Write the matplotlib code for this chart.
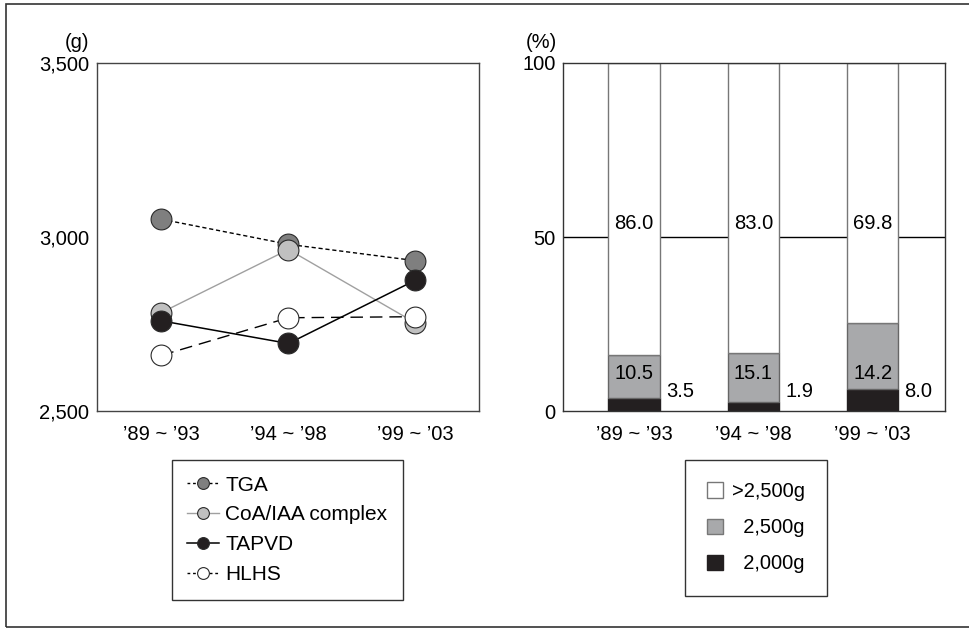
import matplotlib.pyplot as plt
import numpy as np
from matplotlib.lines import Line2D
from matplotlib.patches import Patch, Rectangle

plt.rcParams.update({
    "font.family": ["Liberation Sans", "DejaVu Sans"],
    "font.size": 14.5,
})

# periods on the x axis
periods = ["\u201989 ~ \u201993", "\u201994 ~ \u201998", "\u201999 ~ \u201903"]

# mean birth weight (g)
tga = [3051, 2979, 2932]
coa = [2783, 2964, 2753]
tapvd = [2759, 2694, 2876]
hlhs = [2660, 2768, 2771]

# right panel: printed percentages
pct_over = [86.0, 83.0, 69.8]
pct_2500 = [10.5, 15.1, 14.2]
pct_2000 = [3.5, 1.9, 8.0]
# drawn heights of the segments (as they appear in the figure)
bar_black = [3.6, 2.6, 6.3]
bar_gray = [12.6, 14.2, 19.0]

fig = plt.figure(figsize=(9.69, 6.30), dpi=100)

# outer frame round the whole figure
fig.patches.append(Rectangle((0.0062, 0.004), 1.1, 0.9897, transform=fig.transFigure,
                             fill=False, edgecolor="#333333", linewidth=1.2))

# ---- left panel: lines ----
ax1 = fig.add_axes([0.0998, 0.3476, 0.3945, 0.5524])
x = np.arange(len(periods))
mk = dict(marker="o", markersize=15, markeredgecolor="#2a2a2a", markeredgewidth=0.8)
ax1.plot(x, tga, color="black", lw=1.0, linestyle=(0, (3, 2)), markerfacecolor="#7f7f7f", label="TGA", **mk)
ax1.plot(x, coa, color="#a0a0a0", lw=1.0, linestyle="-", markerfacecolor="#c0c0c0", label="CoA/IAA complex", **mk)
ax1.plot(x, tapvd, color="black", lw=1.1, linestyle="-", markerfacecolor="#231f20", label="TAPVD", **mk)
ax1.plot(x, hlhs, color="black", lw=1.0, linestyle=(0, (9, 5)), markerfacecolor="white", label="HLHS", **mk)

ax1.set_xlim(-0.51, 2.5)
ax1.set_ylim(2500, 3500)
ax1.set_xticks(x)
ax1.set_xticklabels(periods)
ax1.set_yticks([2500, 3000, 3500])
ax1.set_yticklabels(["2,500", "3,000", "3,500"])
ax1.tick_params(axis="both", length=0)
ax1.tick_params(axis="x", pad=10)
ax1.tick_params(axis="y", pad=5.5)
for s in ax1.spines.values():
    s.set_color("#444444")
    s.set_linewidth(1.0)
fig.text(77 / 969, 1 - 43 / 630, "(g)", ha="center", va="center")

lmk = dict(marker="o", markersize=8.5, markeredgecolor="#2a2a2a", markeredgewidth=0.8)
leg1 = fig.legend(handles=[
    Line2D([0], [0], color="black", lw=1.0, linestyle=(0, (2, 2)), markerfacecolor="#7f7f7f", label="TGA", **lmk),
    Line2D([0], [0], color="#a0a0a0", lw=1.0, markerfacecolor="#c0c0c0", label="CoA/IAA complex", **lmk),
    Line2D([0], [0], color="black", lw=1.1, markerfacecolor="#231f20", label="TAPVD", **lmk),
    Line2D([0], [0], color="black", lw=1.0, linestyle=(0, (2, 2)), markerfacecolor="white", label="HLHS", **lmk),
], loc="upper left", bbox_to_anchor=(171.7 / 969, 1 - 460 / 630), fontsize=15,
    frameon=True, fancybox=False, edgecolor="#333333", framealpha=1,
    handlelength=1.54, handletextpad=0.27, labelspacing=0.52, borderpad=0.75, borderaxespad=0)
leg1.get_frame().set_linewidth(1.0)

# ---- right panel: stacked bars ----
ax2 = fig.add_axes([0.5813, 0.3476, 0.3939, 0.5524])
bw = 0.43
white_h = [100 - b - g for b, g in zip(bar_black, bar_gray)]
ax2.axhline(50, color="black", lw=1.0, zorder=0)
ax2.bar(x, bar_black, width=bw, color="#231f20", edgecolor="#231f20", lw=1.0, zorder=2)
ax2.bar(x, bar_gray, width=bw, bottom=bar_black, color="#a8a9ab", edgecolor="#666666", lw=1.0, zorder=2)
ax2.bar(x, white_h, width=bw, bottom=np.add(bar_black, bar_gray), color="white",
        edgecolor="#777777", lw=1.0, zorder=2)

for i in range(len(periods)):
    ax2.text(x[i], 54, f"{pct_over[i]:.1f}", ha="center", va="center", zorder=3)
    ax2.text(x[i], 10.8, f"{pct_2500[i]:.1f}", ha="center", va="center", zorder=3)
    ax2.text(x[i] + 0.385, 5.5, f"{pct_2000[i]:.1f}", ha="center", va="center", zorder=3)

ax2.set_xlim(-0.594, 2.606)
ax2.set_ylim(0, 100)
ax2.set_xticks(x)
ax2.set_xticklabels(periods)
ax2.set_yticks([0, 50, 100])
ax2.tick_params(axis="both", length=0)
ax2.tick_params(axis="x", pad=10)
ax2.tick_params(axis="y", pad=5.5)
for s in ax2.spines.values():
    s.set_color("#333333")
    s.set_linewidth(1.0)
fig.text(541.7 / 969, 1 - 43 / 630, "(%)", ha="center", va="center")

leg2 = fig.legend(handles=[
    Patch(facecolor="white", edgecolor="#777777", label=">2,500g"),
    Patch(facecolor="#a8a9ab", edgecolor="#777777", label="  2,500g"),
    Patch(facecolor="#231f20", edgecolor="#231f20", label="  2,000g"),
], loc="upper left", bbox_to_anchor=(685 / 969, 1 - 460 / 630), fontsize=14.5,
    frameon=True, fancybox=False, edgecolor="#333333", framealpha=1,
    handlelength=0.8, handleheight=0.8, handletextpad=0.41, labelspacing=0.85,
    borderpad=1.1, borderaxespad=0)
leg2.get_frame().set_linewidth(1.0)

fig.savefig("out.png", dpi=100)
